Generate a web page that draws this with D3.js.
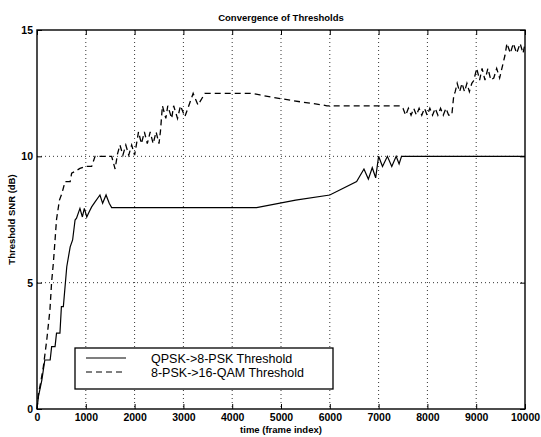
<!DOCTYPE html>
<html>
<head>
<meta charset="utf-8">
<script src="https://cdn.jsdelivr.net/npm/d3@7"></script>
<style>
  body { margin: 0; background: #fff; }
  svg { display: block; }
  text { font-family: "Liberation Sans", Arial, Helvetica, sans-serif; fill: #000; }
</style>
</head>
<body>
<svg id="chart" width="541" height="437"></svg>
<script>
// ---- data ----
const xTicks = [0, 1000, 2000, 3000, 4000, 5000, 6000, 7000, 8000, 9000, 10000];
const yTicks = [0, 5, 10, 15];
const seriesNames = ["QPSK->8-PSK Threshold", "8-PSK->16-QAM Threshold"];

const qpskT = [0, 30, 100, 160, 270, 300, 370, 400, 470, 500, 540, 610, 680, 730, 780, 810, 880, 930, 970, 1020, 1070, 1120, 1190, 1290, 1345, 1415, 1480, 1530, 4500, 5300, 6000, 6550, 6700, 6790, 6870, 6940, 7000, 7080, 7180, 7270, 7360, 7420, 7470, 10000];
const qpskV = [0, 0.5, 1.15, 1.94, 1.94, 2.47, 2.47, 3.0, 3.0, 4.05, 4.05, 5.63, 6.42, 6.69, 7.48, 7.55, 7.94, 7.6, 7.94, 7.6, 7.81, 8.0, 8.2, 8.47, 8.14, 8.47, 8.14, 7.97, 7.97, 8.27, 8.47, 9.0, 9.5, 9.1, 9.55, 9.15, 10.0, 9.6, 10.0, 9.6, 10.0, 9.7, 10.0, 10.0];

const psk8T = [0, 30, 80, 130, 200, 265, 300, 335, 370, 400, 460, 510, 575, 680, 710, 880, 990, 1120, 1190, 1530, 1600, 1650, 1700, 1760, 1820, 1880, 1940, 2000, 2040, 2080, 2140, 2200, 2260, 2320, 2380, 2440, 2500, 2530, 2570, 2640, 2680, 2760, 2800, 2880, 2940, 3030, 3200, 3300, 3440, 4400, 4570, 4840, 5390, 5870, 5940, 7440, 7500, 7555, 7610, 7665, 7720, 7775, 7830, 7885, 7940, 7995, 8050, 8105, 8160, 8215, 8270, 8325, 8380, 8435, 8500, 8540, 8570, 8610, 8660, 8710, 8760, 8810, 8860, 8910, 8950, 9010, 9070, 9120, 9180, 9240, 9300, 9360, 9420, 9480, 9590, 9630, 9700, 9760, 9830, 9900, 9960, 10000];
const psk8V = [0, 0.6, 1.1, 1.67, 2.73, 3.92, 5.04, 5.77, 6.69, 7.5, 8.27, 8.53, 9.0, 9.0, 9.33, 9.52, 9.6, 9.6, 10.0, 10.0, 9.5, 10.1, 10.45, 10.05, 10.45, 10.05, 10.45, 10.05, 10.5, 10.97, 10.5, 10.97, 10.5, 10.97, 10.5, 10.97, 10.5, 11.0, 12.0, 11.5, 12.0, 11.5, 12.0, 11.5, 12.0, 11.57, 12.49, 12.03, 12.49, 12.49, 12.43, 12.33, 12.16, 12.03, 12.0, 12.0, 11.9, 11.63, 11.9, 11.63, 11.9, 11.63, 11.9, 11.63, 11.9, 11.63, 11.9, 11.63, 11.9, 11.63, 11.9, 11.63, 11.9, 11.63, 11.63, 12.4, 12.56, 12.89, 12.56, 12.89, 12.56, 12.89, 12.56, 12.89, 13.0, 13.48, 13.02, 13.48, 13.02, 13.48, 13.02, 13.1, 13.48, 13.1, 14.0, 14.47, 14.08, 14.47, 14.08, 14.47, 14.08, 14.47];

// ---- layout ----
const svg = d3.select("#chart");
const L = 37, R = 525, T = 30, B = 409;
const x = d3.scaleLinear().domain([0, 10000]).range([L, R]);
const y = d3.scaleLinear().domain([0, 15]).range([B, T]);

// grid
const grid = svg.append("g").attr("stroke", "#000").attr("stroke-width", 0.8).attr("stroke-dasharray", "1,3");
grid.selectAll("line.gx").data(xTicks.slice(1, -1)).join("line")
  .attr("x1", d => x(d)).attr("x2", d => x(d)).attr("y1", T).attr("y2", B);
grid.selectAll("line.gy").data(yTicks.slice(1, -1)).join("line")
  .attr("x1", L).attr("x2", R).attr("y1", d => y(d)).attr("y2", d => y(d));

// axes
const fmt = d3.format("d");
const axB = svg.append("g").attr("transform", `translate(0,${B})`)
  .call(d3.axisBottom(x).tickValues(xTicks).tickFormat(fmt).tickSize(-5).tickPadding(5));
const axL = svg.append("g").attr("transform", `translate(${L},0)`)
  .call(d3.axisLeft(y).tickValues(yTicks).tickFormat(fmt).tickSize(-5).tickPadding(4));
const axT = svg.append("g").attr("transform", `translate(0,${T})`)
  .call(d3.axisTop(x).tickValues(xTicks).tickFormat("").tickSize(-5));
const axR = svg.append("g").attr("transform", `translate(${R},0)`)
  .call(d3.axisRight(y).tickValues(yTicks).tickFormat("").tickSize(-5));
[axB, axL, axT, axR].forEach(a => {
  a.select(".domain").remove();
  a.selectAll(".tick line").attr("stroke", "#000").attr("stroke-width", 1);
  a.selectAll("text").style("font-family", '"Liberation Sans", Arial, sans-serif')
    .style("font-size", "10.5px").style("font-weight", "bold").attr("fill", "#000");
});

// frame
svg.append("rect").attr("x", L).attr("y", T).attr("width", R - L).attr("height", B - T)
  .attr("fill", "none").attr("stroke", "#000").attr("stroke-width", 1.4);

// lines
const line = d3.line().x(d => x(d[0])).y(d => y(d[1]));
const qpsk = qpskT.map((t, i) => [t, qpskV[i]]);
const psk8 = psk8T.map((t, i) => [t, psk8V[i]]);
svg.append("path").datum(qpsk).attr("d", line).attr("fill", "none")
  .attr("stroke", "#000").attr("stroke-width", 1.2);
svg.append("path").datum(psk8).attr("d", line).attr("fill", "none")
  .attr("stroke", "#000").attr("stroke-width", 1.3).attr("stroke-dasharray", "6,4");

// title and labels
svg.append("text").attr("x", (L + R) / 2).attr("y", 21).attr("text-anchor", "middle")
  .style("font-size", "9.5px").style("font-weight", "bold").text("Convergence of Thresholds");
svg.append("text").attr("x", (L + R) / 2).attr("y", 433).attr("text-anchor", "middle")
  .style("font-size", "9.5px").style("font-weight", "bold").text("time (frame index)");
svg.append("text").attr("transform", `translate(15,${(T + B) / 2}) rotate(-90)`)
  .attr("text-anchor", "middle").style("font-size", "9.5px").style("font-weight", "bold")
  .text("Threshold SNR (dB)");

// legend
const lg = svg.append("g");
lg.append("rect").attr("x", 75).attr("y", 348).attr("width", 258).attr("height", 41)
  .attr("fill", "#fff").attr("stroke", "#000").attr("stroke-width", 1.3);
const styles = [null, "6,4"];
seriesNames.forEach((name, i) => {
  const yy = 358 + i * 14;
  lg.append("line").attr("x1", 86).attr("x2", 126).attr("y1", yy).attr("y2", yy)
    .attr("stroke", "#000").attr("stroke-width", 1.2)
    .attr("stroke-dasharray", styles[i]);
  lg.append("text").attr("x", 151).attr("y", yy + 4.5)
    .style("font-size", "12.5px").text(name);
});
</script>
</body>
</html>
